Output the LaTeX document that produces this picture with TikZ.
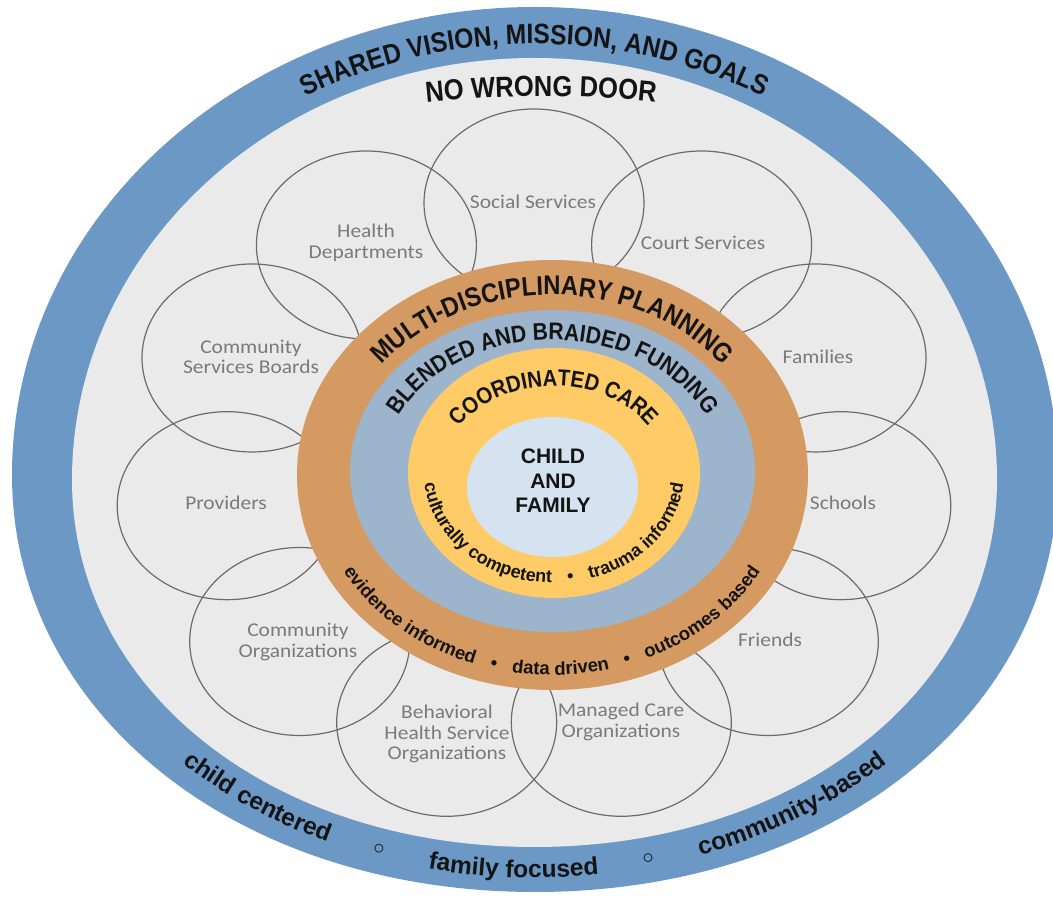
\documentclass[tikz,border=0pt]{standalone}
\usepackage{fontspec}
\usetikzlibrary{shapes.geometric,decorations.text}
\newfontfamily\fA{Liberation Sans}
\newfontfamily\fC[FakeStretch=0.88]{Liberation Sans}
\newfontfamily\fCal[FakeStretch=1.1]{Carlito}
\newfontfamily\fDV{DejaVu Sans}
\definecolor{blueband}{HTML}{6C98C5}
\definecolor{graybg}{HTML}{EAEAEA}
\definecolor{orangering}{HTML}{D49A62}
\definecolor{bluegray}{HTML}{9DB4CD}
\definecolor{yellowring}{HTML}{FECB67}
\definecolor{centerc}{HTML}{D5E3F0}
\definecolor{circ}{HTML}{6B6B6B}
\definecolor{lblgray}{HTML}{7A7A7A}
\definecolor{txt}{HTML}{141414}
\newcommand\tTitle{\color{txt}\fC\bfseries\fontsize{28}{30}\selectfont}
\newcommand\tNWD{\color{txt}\fC\bfseries\fontsize{29}{31}\selectfont}
\newcommand\tMulti{\color{txt}\fC\bfseries\fontsize{27}{29}\selectfont}
\newcommand\tBlend{\color{txt}\fC\bfseries\fontsize{24}{26}\selectfont}
\newcommand\tCoord{\color{txt}\fC\bfseries\fontsize{23}{25}\selectfont}
\newcommand\tSmO{\color{txt}\fA\bfseries\fontsize{18.5}{20}\selectfont}
\newcommand\tSmY{\color{txt}\fA\bfseries\fontsize{18}{20}\selectfont}
\newcommand\tBand{\color{txt}\fA\bfseries\fontsize{24.5}{26}\selectfont}
\begin{document}
\begin{tikzpicture}[x=1pt,y=1pt,
  smallc/.style={ellipse, draw=circ, line width=1.2pt, minimum width=220pt, minimum height=188pt, inner sep=0pt},
  lbl/.style={text=lblgray, font=\fCal\fontsize{19.5}{20.5}\selectfont, align=center, inner sep=0pt},
  ring/.style={ellipse, inner sep=0pt, draw=none},
  curvetext/.style={decorate, decoration={text along path, text align=center, text={#1}}}
]
\useasboundingbox (0,0) rectangle (1053,899);
\fill[white] (0,0) rectangle (1053,899);
% outer blue band
\fill[blueband] (12,424) .. controls (12,682.5) and (246.1,892) .. (535,892)
  .. controls (823.9,892) and (1058,682.5) .. (1058,424)
  .. controls (1058,186.3) and (833.1,7) .. (535,7)
  .. controls (236.9,7) and (12,186.3) .. (12,424) -- cycle;
% inner gray field
\fill[graybg] (72,419) .. controls (72,652) and (279.1,841) .. (534.5,841)
  .. controls (789.9,841) and (997,652) .. (997,419)
  .. controls (997,209.8) and (798.1,52) .. (534.5,52)
  .. controls (270.9,52) and (72,209.8) .. (72,419) -- cycle;
% small circles
\node[smallc] (c1) at (534,696) {};
\node[smallc] (c2) at (701.6,654) {};
\node[smallc] (c3) at (816,541) {};
\node[smallc] (c4) at (840.8,393.3) {};
\node[smallc] (c5) at (768.3,257.5) {};
\node[smallc] (c6) at (621.3,176.7) {};
\node[smallc] (c7) at (446.7,176.7) {};
\node[smallc] (c8) at (299.7,257.5) {};
\node[smallc] (c9) at (227.2,393.3) {};
\node[smallc] (c10) at (252,541) {};
\node[smallc] (c11) at (366.4,654) {};
% labels
\node[lbl] (t1) at (533,697) {Social Services};
\node[lbl] (t2) at (703,656) {Court Services};
\node[lbl] (t3) at (818,542) {Families};
\node[lbl] (t4) at (843,396) {Schools};
\node[lbl] (t5) at (770,259) {Friends};
\node[lbl] (t6) at (621,177) {Managed Care\\Organizations};
\node[lbl] (t7) at (447,165) {Behavioral\\Health Service\\Organizations};
\node[lbl] (t8) at (298,257) {Community\\Organizations};
\node[lbl] (t9) at (226,396) {Providers};
\node[lbl] (t10) at (251,542) {Community\\Services Boards};
\node[lbl] (t11) at (366,656) {Health\\Departments};
% central rings
\node[ring, fill=orangering, minimum width=511pt, minimum height=430pt] (orange) at (552.5,424) {};
\node[ring, fill=bluegray, minimum width=405pt, minimum height=322pt] (blend) at (552.5,428) {};
\node[ring, fill=yellowring, minimum width=292pt, minimum height=250pt] (coord) at (554,426) {};
\node[ring, fill=centerc, minimum width=171pt, minimum height=140pt] (core) at (552.5,412) {};
\node[align=center, text=txt, font=\fA\bfseries\fontsize{21}{24.5}\selectfont, inner sep=0pt] (child) at (553,418) {CHILD\\AND\\FAMILY};
% curved texts
\path[curvetext={|\tTitle|SHARED VISION{,} MISSION{,} AND GOALS}]
  ([shift={(534.6,420.4)}]160:479pt and 434.6pt) arc[start angle=160, end angle=20, x radius=479pt, y radius=434.6pt];
\path[curvetext={|\tNWD|NO WRONG DOOR}]
  (386,792) .. controls (489,806.5) and (593,806.5) .. (696,792);
\path[curvetext={|\tBand|child centered{\hspace*{44pt}{\fDV ◦}\hspace*{44pt}}family focused{\hspace*{44pt}{\fDV ◦}\hspace*{44pt}}community-based}]
  ([shift={(534.8,422.4)}]190:503.6pt and 401pt) arc[start angle=190, end angle=350, x radius=503.6pt, y radius=401pt];
\path[curvetext={|\tMulti|MULTI-DISCIPLINARY PLANNING}]
  ([shift={(552,424)}]170:215pt and 180pt) arc[start angle=170, end angle=10, x radius=215pt, y radius=180pt];
\path[curvetext={|\tBlend|BLENDED AND BRAIDED FUNDING}]
  ([shift={(552.5,427)}]175:170pt and 132pt) arc[start angle=175, end angle=5, x radius=170pt, y radius=132pt];
\path[curvetext={|\tCoord|COORDINATED CARE}]
  ([shift={(554,426)}]170:112pt and 87pt) arc[start angle=170, end angle=10, x radius=112pt, y radius=87pt];
\path[curvetext={|\tSmY|culturally competent{\hspace*{16pt}•\hspace*{16pt}}trauma informed}]
  ([shift={(554,426)}]182:130pt and 110pt) arc[start angle=182, end angle=358, x radius=130pt, y radius=110pt];
\path[curvetext={|\tSmO|evidence informed{\hspace*{16pt}•\hspace*{16pt}}data driven{\hspace*{16pt}•\hspace*{16pt}}outcomes based}]
  ([shift={(552,424)}]200:238pt and 200pt) arc[start angle=200, end angle=340, x radius=238pt, y radius=200pt];
\end{tikzpicture}
\end{document}
